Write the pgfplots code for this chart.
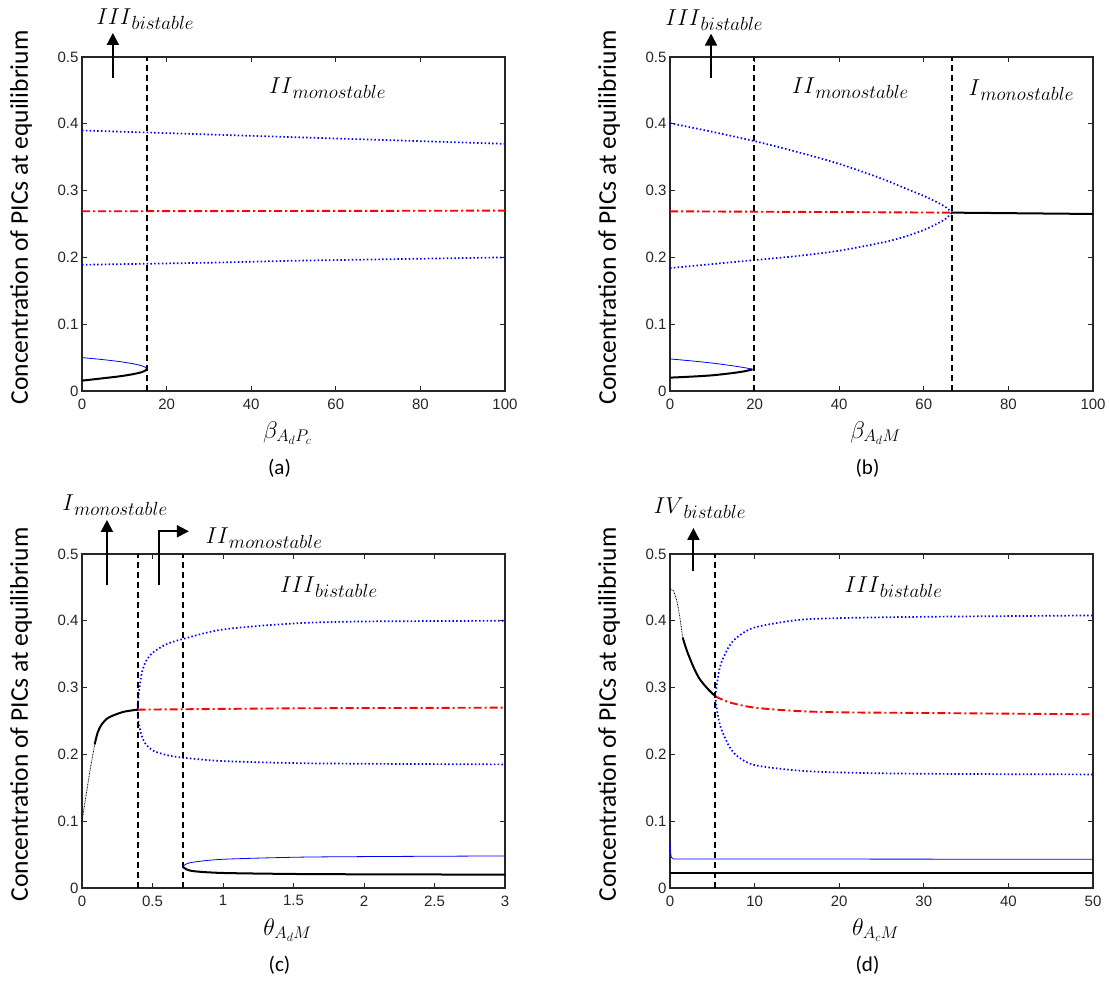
\documentclass[border=0pt]{standalone}
\usepackage{fix-cm}
\usepackage{fontspec}
\setmainfont{Carlito}
\newfontfamily\tickfont{Liberation Sans}
\usepackage{pgfplots}
\pgfplotsset{compat=1.18}
\usetikzlibrary{arrows.meta}
\definecolor{axgray}{RGB}{38,38,38}

% region label: big italic roman numeral with a lowered italic word
\newcommand{\reg}[2]{\fontsize{23}{24}\selectfont$#1$\raisebox{-5pt}{\fontsize{19}{20}\selectfont$#2$}}

\tikzset{
  arrw/.style={line width=2pt, -{Triangle[length=12pt,width=12pt]}},
  sub/.style={font=\fontsize{21}{22}\selectfont, xshift=-14pt, yshift=-77pt},
}

\pgfplotsset{
  panel/.style={
    scale only axis, width=423pt, height=334pt, anchor=south west,
    ymin=0, ymax=0.5, ytick={0,0.1,0.2,0.3,0.4,0.5},
    clip=false,
    axis line style={draw=axgray, line width=1.3pt},
    major tick style={draw=axgray, line width=1pt},
    major tick length=5pt, tick align=inside,
    ticklabel style={font=\tickfont\fontsize{15}{15}\selectfont, text=axgray},
    xticklabel style={yshift=-4pt},
    /pgf/number format/assume math mode=true,
    /pgf/number format/fixed,
    every axis y label/.style={at={(axis description cs:0,0.52)}, xshift=-61pt,
      rotate=90, anchor=center, font=\fontsize{25.5}{26}\selectfont},
    every axis x label/.style={at={(axis description cs:0.5,0)}, yshift=-42pt,
      xshift=-6pt, anchor=center, font=\fontsize{24}{25}\selectfont},
    ylabel={Concentration of PICs at equilibrium},
  },
  bdot/.style={blue, line width=1.7pt, dash pattern=on 1.5pt off 2.3pt, no markers},
  rdd/.style={red, line width=1.9pt, dash pattern=on 8pt off 3pt on 2pt off 3pt, no markers},
  blk/.style={black, line width=2pt, no markers},
  bthin/.style={blue, line width=0.8pt, no markers},
  kdot/.style={black, line width=0.8pt, dash pattern=on 0.8pt off 0.8pt, no markers},
  vdash/.style={black, line width=2pt, dash pattern=on 6pt off 4pt, no markers},
}

\begin{document}
\begin{tikzpicture}
\path[use as bounding box] (0,0) rectangle (1110pt,985pt);

% (a)
\begin{axis}[panel, at={(82pt,594pt)}, xmin=0, xmax=100, xtick={0,20,40,60,80,100},
  xlabel={$\beta_{A_dP_c}$}]
\addplot[bdot] coordinates {(0,0.390)(15.3,0.387)(30,0.384)(50,0.380)(70,0.376)(100,0.370)};
\addplot[rdd] coordinates {(0,0.269)(50,0.2695)(100,0.270)};
\addplot[bdot] coordinates {(0,0.189)(15.3,0.1905)(30,0.192)(50,0.195)(70,0.197)(100,0.200)};
\addplot[bthin, smooth] coordinates {(0,0.050)(4.9,0.047)(8.9,0.044)(11.9,0.041)(14.0,0.038)(15.1,0.035)(15.3,0.033)};
\addplot[blk, smooth] coordinates {(0,0.0155)(4.9,0.019)(8.9,0.022)(11.9,0.025)(14.0,0.028)(15.1,0.031)(15.3,0.033)};
\addplot[vdash] coordinates {(15.3,0)(15.3,0.5)};
\draw[arrw] (axis cs:7.3,0.469) -- (axis cs:7.3,0.536);
\node at (axis cs:14.9,0.556) {\reg{III}{bistable}};
\node at (axis cs:58,0.454) {\reg{II}{monostable}};
\node[sub] at (axis description cs:0.5,0) {(a)};
\end{axis}

% (b)
\begin{axis}[panel, at={(670pt,594pt)}, xmin=0, xmax=100, xtick={0,20,40,60,80,100},
  xlabel={$\beta_{A_dM}$}]
\addplot[bdot, smooth] coordinates {(0,0.401)(10,0.388)(20,0.374)(30,0.358)(40,0.340)(50,0.318)(55,0.305)(60,0.292)(63,0.283)(65,0.276)(66.7,0.267)};
\addplot[rdd] coordinates {(0,0.269)(33,0.268)(66.7,0.267)};
\addplot[bdot, smooth] coordinates {(0,0.184)(10,0.190)(20,0.196)(30,0.202)(40,0.210)(50,0.222)(55,0.230)(60,0.241)(63,0.250)(65,0.257)(66.7,0.267)};
\addplot[blk] coordinates {(66.7,0.267)(100,0.265)};
\addplot[bthin, smooth] coordinates {(0,0.048)(6,0.0445)(11,0.041)(15,0.0375)(18,0.0345)(19.5,0.0325)};
\addplot[blk, smooth] coordinates {(0,0.020)(5,0.0215)(10,0.0235)(15,0.027)(18,0.030)(19.5,0.0325)};
\addplot[vdash] coordinates {(19.8,0)(19.8,0.5)};
\addplot[vdash] coordinates {(66.7,0)(66.7,0.5)};
\draw[arrw] (axis cs:9.7,0.469) -- (axis cs:9.7,0.535);
\node at (axis cs:10.4,0.555) {\reg{III}{bistable}};
\node at (axis cs:42.6,0.453) {\reg{II}{monostable}};
\node at (axis cs:83,0.450) {\reg{I}{monostable}};
\node[sub] at (axis description cs:0.5,0) {(b)};
\end{axis}

% (c)
\begin{axis}[panel, at={(82pt,97pt)}, xmin=0, xmax=3, xtick={0,0.5,1,1.5,2,2.5,3},
  xlabel={$\theta_{A_dM}$}]
\addplot[kdot] coordinates {(0,0.100)(0.03,0.140)(0.06,0.180)(0.09,0.215)};
\addplot[blk, smooth] coordinates {(0.09,0.215)(0.11,0.232)(0.14,0.245)(0.18,0.254)(0.23,0.259)(0.30,0.264)(0.394,0.267)};
\addplot[rdd] coordinates {(0.394,0.267)(1.5,0.269)(3,0.270)};
\addplot[bdot, smooth] coordinates {(0.394,0.267)(0.40,0.285)(0.42,0.318)(0.45,0.338)(0.5,0.352)(0.6,0.365)(0.72,0.373)(1.0,0.387)(1.5,0.396)(2,0.399)(3,0.400)};
\addplot[bdot, smooth] coordinates {(0.394,0.267)(0.40,0.250)(0.42,0.230)(0.45,0.216)(0.5,0.206)(0.6,0.199)(0.72,0.195)(1.0,0.190)(1.5,0.187)(2,0.186)(3,0.185)};
\addplot[bthin, smooth] coordinates {(0.715,0.032)(0.74,0.036)(0.8,0.039)(1.0,0.043)(1.5,0.046)(2,0.047)(3,0.048)};
\addplot[blk, smooth] coordinates {(0.715,0.032)(0.74,0.028)(0.8,0.025)(1.0,0.0225)(1.5,0.021)(2,0.0205)(3,0.020)};
\addplot[vdash] coordinates {(0.394,0)(0.394,0.5)};
\addplot[vdash] coordinates {(0.715,0)(0.715,0.5)};
\draw[arrw] (axis cs:0.177,0.454) -- (axis cs:0.177,0.551);
\draw[arrw] (axis cs:0.543,0.454) -- (axis cs:0.543,0.534) -- (axis cs:0.758,0.534);
\node at (axis cs:0.233,0.573) {\reg{I}{monostable}};
\node at (axis cs:1.289,0.523) {\reg{II}{monostable}};
\node at (axis cs:1.749,0.450) {\reg{III}{bistable}};
\node[sub] at (axis description cs:0.5,0) {(c)};
\end{axis}

% (d)
\begin{axis}[panel, at={(670pt,97pt)}, xmin=0, xmax=50, xtick={0,10,20,30,40,50},
  xlabel={$\theta_{A_cM}$}]
\addplot[kdot, smooth] coordinates {(0,0.447)(0.4,0.445)(0.8,0.430)(1.1,0.410)(1.5,0.375)};
\addplot[blk, smooth] coordinates {(1.5,0.375)(2,0.355)(2.8,0.330)(3.5,0.313)(4.4,0.299)(5.35,0.287)};
\addplot[rdd, smooth] coordinates {(5.35,0.287)(7,0.278)(10,0.270)(15,0.265)(20,0.263)(30,0.262)(50,0.260)};
\addplot[bdot, smooth] coordinates {(5.35,0.287)(5.6,0.310)(6,0.335)(7,0.362)(8,0.376)(10,0.390)(15,0.401)(20,0.404)(30,0.406)(50,0.408)};
\addplot[bdot, smooth] coordinates {(5.35,0.287)(5.6,0.263)(6,0.240)(7,0.212)(8,0.197)(10,0.184)(15,0.176)(20,0.173)(30,0.171)(50,0.170)};
\addplot[bthin] coordinates {(0,0.070)(0.05,0.055)(0.15,0.046)(0.4,0.0435)(50,0.043)};
\addplot[blk] coordinates {(0,0.022)(50,0.022)};
\addplot[vdash] coordinates {(5.35,0)(5.35,0.5)};
\draw[arrw] (axis cs:2.77,0.474) -- (axis cs:2.77,0.539);
\node at (axis cs:3.5,0.569) {\reg{IV}{bistable}};
\node at (axis cs:26.4,0.450) {\reg{III}{bistable}};
\node[sub] at (axis description cs:0.5,0) {(d)};
\end{axis}
\end{tikzpicture}
\end{document}
